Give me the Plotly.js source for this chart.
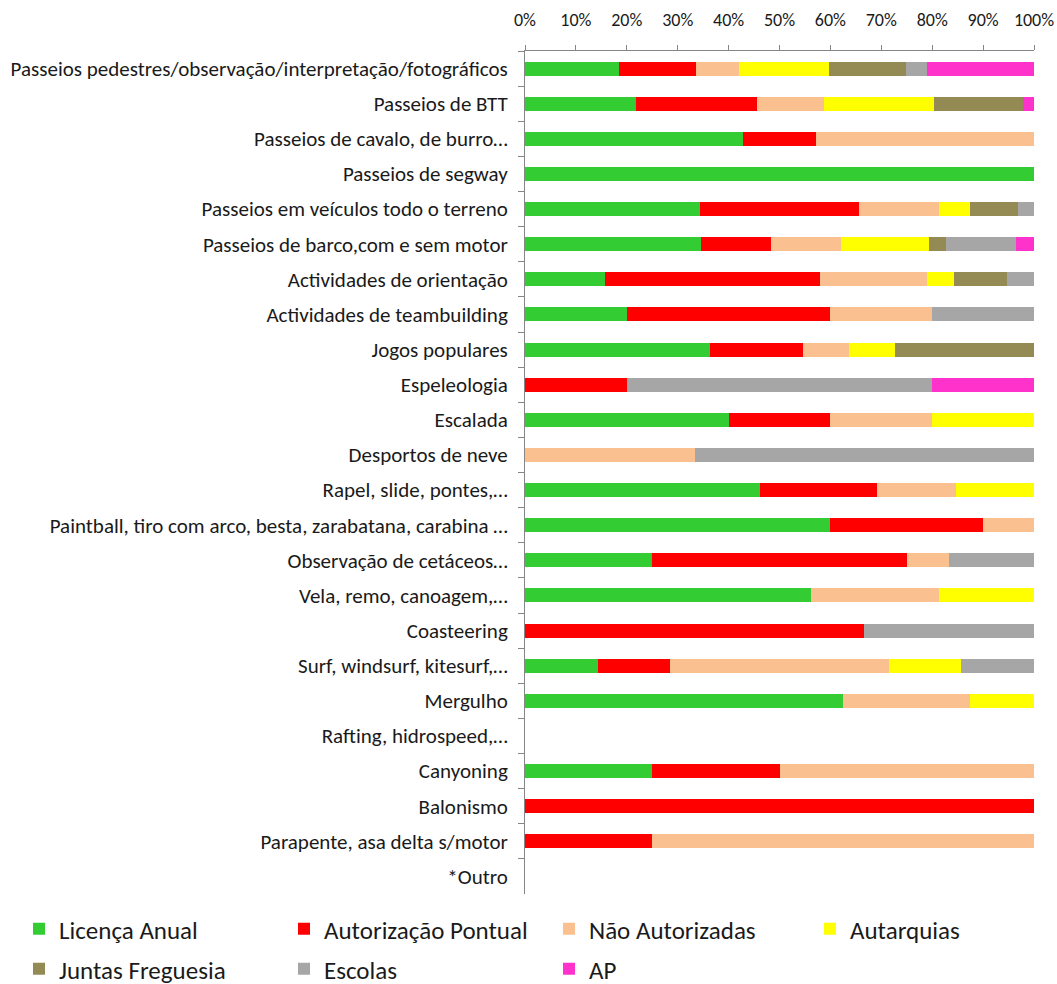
<!DOCTYPE html>
<html>
<head>
<meta charset="utf-8">
<script src="https://cdn.plot.ly/plotly-3.0.1.min.js"></script>
<style>body{margin:0;background:#fff;} #chart{width:1057px;height:984px;}</style>
</head>
<body>
<div id="chart"></div>
<script>
const categories = [
  "Passeios pedestres/observação/interpretação/fotográficos",
  "Passeios de BTT",
  "Passeios de cavalo, de burro…",
  "Passeios de segway",
  "Passeios em veículos todo o terreno",
  "Passeios de barco,com e sem motor",
  "Actividades de orientação",
  "Actividades de teambuilding",
  "Jogos populares",
  "Espeleologia",
  "Escalada",
  "Desportos de neve",
  "Rapel, slide, pontes,…",
  "Paintball, tiro com arco, besta, zarabatana, carabina …",
  "Observação de cetáceos…",
  "Vela, remo, canoagem,…",
  "Coasteering",
  "Surf, windsurf, kitesurf,…",
  "Mergulho",
  "Rafting, hidrospeed,…",
  "Canyoning",
  "Balonismo",
  "Parapente, asa delta s/motor",
  "*Outro"
];
const seriesNames = ["Licença Anual","Autorização Pontual","Não Autorizadas","Autarquias","Juntas Freguesia","Escolas","AP"];
const licencaAnual       = [22,10,3,1,11,10,3,1,4,0,2,0,6,6,3,9,0,1,5,0,1,0,0,0];
const autorizacaoPontual = [18,11,1,0,10,4,8,2,2,1,1,0,3,3,6,0,2,1,0,0,1,1,1,0];
const naoAutorizadas     = [10,6,3,0,5,4,4,1,1,0,1,1,2,1,1,4,0,3,2,0,2,0,3,0];
const autarquias         = [21,10,0,0,2,5,1,0,1,0,1,0,2,0,0,3,0,1,1,0,0,0,0,0];
const juntasFreguesia    = [18,8,0,0,3,1,2,0,3,0,0,0,0,0,0,0,0,0,0,0,0,0,0,0];
const escolas            = [5,0,0,0,1,4,1,1,0,3,0,2,0,0,2,0,1,1,0,0,0,0,0,0];
const ap                 = [25,1,0,0,0,1,0,0,0,1,0,0,0,0,0,0,0,0,0,0,0,0,0,0];
const tickVals = [0,10,20,30,40,50,60,70,80,90,100];

const seriesValues = [licencaAnual, autorizacaoPontual, naoAutorizadas, autarquias, juntasFreguesia, escolas, ap];
const colors = ["#33CC33","#FF0000","#FAC090","#FFFF00","#948A54","#A6A6A6","#FF33CC"];
// legend placement (container pixels): symbol centre x, row centre y
const legendX = [39, 304, 569, 830, 39, 304, 569];
const legendY = [929, 929, 929, 929, 969, 969, 969];

const font = "Carlito, Calibri, 'Open Sans', sans-serif";
const W = 1057, H = 984;

const traces = seriesValues.map((vals, i) => ({
  type: "bar",
  orientation: "h",
  name: seriesNames[i],
  y: categories,
  x: vals,
  marker: {color: colors[i], line: {width: 0}},
  legend: i === 0 ? "legend" : "legend" + (i + 1),
  hoverinfo: "skip"
}));

const layout = {
  width: W, height: H,
  margin: {l: 525, r: 23, t: 51, b: 90, autoexpand: false},
  paper_bgcolor: "#fff", plot_bgcolor: "#fff",
  barmode: "stack",
  barnorm: "percent",
  bargap: 0.6,
  font: {family: font, color: "#1a1a1a"},
  xaxis: {
    side: "top",
    range: [0, 100],
    tickvals: tickVals,
    ticktext: tickVals.map(v => v + "%"),
    showgrid: false, zeroline: false,
    showline: true, linecolor: "#868686", linewidth: 1,
    ticks: "outside", ticklen: 5, tickcolor: "#868686",
    ticklabelstandoff: 12,
    tickfont: {family: font, size: 18, color: "#1a1a1a"},
    fixedrange: true
  },
  yaxis: {
    type: "category",
    autorange: "reversed",
    showgrid: false, zeroline: false,
    showline: true, linecolor: "#868686", linewidth: 1,
    ticks: "outside", ticklen: 6, tickcolor: "#868686",
    tickson: "boundaries",
    ticklabelstandoff: 12,
    tickfont: {family: font, size: 21, color: "#1a1a1a"},
    fixedrange: true
  },
  showlegend: true
};

seriesNames.forEach((n, i) => {
  const key = i === 0 ? "legend" : "legend" + (i + 1);
  layout[key] = {
    orientation: "h",
    xref: "container", yref: "container",
    xanchor: "left", yanchor: "middle",
    x: (legendX[i] - 20) / W,
    y: 1 - legendY[i] / H,
    font: {family: font, size: 25, color: "#1a1a1a"},
    bgcolor: "rgba(0,0,0,0)",
    borderwidth: 0
  };
});

Plotly.newPlot("chart", traces, layout, {displayModeBar: false, staticPlot: true});
</script>
</body>
</html>
